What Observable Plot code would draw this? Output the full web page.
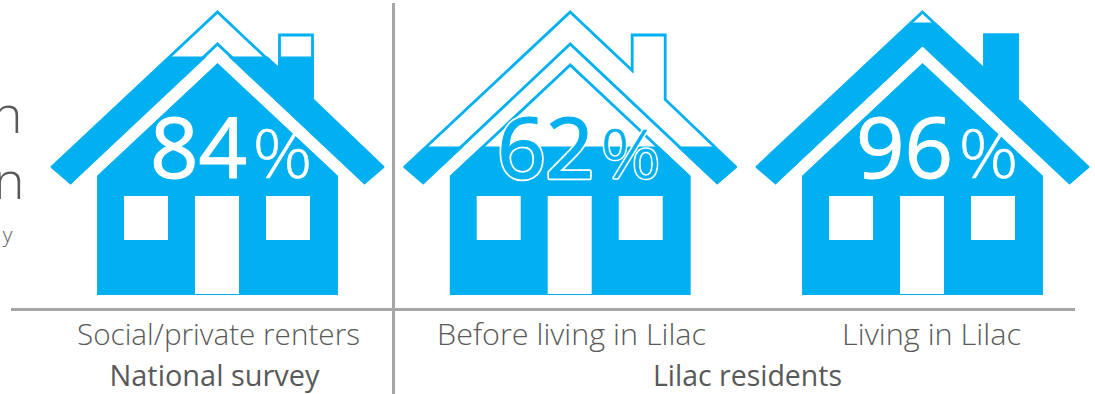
<!DOCTYPE html>
<html>
<head>
<meta charset="utf-8">
<script src="https://cdn.jsdelivr.net/npm/d3@7"></script>
<script src="https://cdn.jsdelivr.net/npm/@observablehq/plot@0.6"></script>
<style>
  html, body { margin: 0; padding: 0; background: #fff; }
  svg { display: block; }
</style>
</head>
<body>
<div id="chart"></div>
<script>
// Survey results
const groups = ["Social/private renters", "Before living in Lilac", "Living in Lilac"];
const percents = [84, 62, 96];
const sources = ["National survey", "Lilac residents"];
const headingEnds = ["h", "n", "y"];

// Page layout
const houseCentres = [217, 569.7, 922];
const digitCentres = [198, 545, 904];
const percentStarts = [252, 600, 958];
const groupCentres = [218, 571, 931];
const sourceCentres = [214, 747];
const textWidths = new Map([
  ["Social/private renters", 283], ["Before living in Lilac", 269], ["Living in Lilac", 179],
  ["National survey", 210], ["Lilac residents", 189], ["%", 60]
]);

// House pictogram, relative to the ridge line of each house
const roofShape = [[0, 11.5], [62, 70], [62, 34.5], [95, 34.5], [95, 99], [165, 166], [147, 182], [0, 43.5], [-147, 182], [-165, 166]];
const bodyShape = [[0, 64.5], [-119, 176], [-119, 293], [119, 293], [119, 176]];
const solidShape = [[0, 63], [-120, 175], [-120, 294], [120, 294], [120, 175]];
const solidRoof = [[0, 10], [61, 66], [61, 33], [96, 33], [96, 99], [167, 167], [147, 184], [0, 46], [-147, 184], [-167, 167]];
const openings = [[-93, -49, 196, 240], [-22, 22, 196, 294], [49, 93, 196, 240]];

// The gauge is not linear: the fill level of each house follows these stops
const levelScale = Plot.scale({y: {type: "linear", domain: [0, 62, 84, 96, 100], range: [294, 146, 56, 22, 10]}});

// Keep the part of a polygon lying below a horizontal level
function clipBelow(points, level) {
  const out = [];
  points.forEach((a, i) => {
    const b = points[(i + 1) % points.length];
    if (a[1] >= level) out.push(a);
    if ((a[1] >= level) !== (b[1] >= level)) {
      const t = (level - a[1]) / (b[1] - a[1]);
      out.push([a[0] + t * (b[0] - a[0]), level]);
    }
  });
  return out;
}

const placed = (shape, house, part) => shape.map(([x, y]) => ({x: x + houseCentres[house], y, part: `${house}-${part}`}));

const outlines = percents.flatMap((_, h) => [...placed(roofShape, h, "roof"), ...placed(bodyShape, h, "body")]);
const fills = percents.flatMap((p, h) => {
  const level = levelScale.apply(p);
  return [...placed(clipBelow(solidRoof, level), h, "roof"), ...placed(clipBelow(solidShape, level), h, "body")];
});
const gaps = percents.flatMap((_, h) => openings.map(([a, b, top, bottom]) => ({
  x1: houseCentres[h] + a, x2: houseCentres[h] + b, y1: top, y2: bottom
})));

const blue = "#00B0F0", rule = "#A6A6A6", ink = "#595959";
const face = "'Open Sans', sans-serif";
const figures = percents.map((p, i) => ({p, i}));
const figureColor = d => (d.i === 1 ? blue : "white");

// Digits and percent sign of one house set; the middle house sits on a white halo
const digitText = {
  x: d => digitCentres[d.i], y: 177, text: d => String(d.p), textAnchor: "middle", lineAnchor: "bottom",
  fontFamily: face, fontWeight: 400, fontSize: 85
};
const signText = {
  x: d => percentStarts[d.i], y: 177, text: () => "%", textAnchor: "start", lineAnchor: "bottom",
  fontFamily: face, fontWeight: 300, fontSize: 66, className: "fit"
};

const plot = Plot.plot({
  width: 1095, height: 394,
  margin: 0,
  x: {domain: [0, 1095], range: [0, 1095], axis: null},
  y: {domain: [0, 394], range: [0, 394], axis: null},
  style: {background: "white"},
  marks: [
    Plot.line(fills, {x: "x", y: "y", z: "part", curve: "linear-closed", fill: blue, stroke: "none"}),
    Plot.line(outlines, {x: "x", y: "y", z: "part", curve: "linear-closed", fill: "none", stroke: blue, strokeWidth: 2.8, strokeLinejoin: "miter", strokeMiterlimit: 8}),
    Plot.rect(gaps, {x1: "x1", x2: "x2", y1: "y1", y2: "y2", fill: "white"}),
    Plot.text(figures.filter(d => d.i === 1), {...digitText, fill: "white", stroke: "white", strokeWidth: 4.6}),
    Plot.text(figures.filter(d => d.i === 1), {...signText, fill: "white", stroke: "white", strokeWidth: 3.4}),
    Plot.text(figures, {...digitText, fill: figureColor, stroke: figureColor, strokeWidth: 1.1}),
    Plot.text(figures, {...signText, fill: figureColor, stroke: figureColor, strokeWidth: 0.5}),
    Plot.ruleY([309], {x1: 11, x2: 1075, stroke: rule, strokeWidth: 3}),
    Plot.ruleX([393], {y1: 3, y2: 394, stroke: rule, strokeWidth: 3}),
    Plot.text(groups, {
      x: (_, i) => groupCentres[i], y: 344, text: d => d, textAnchor: "middle", lineAnchor: "bottom",
      fontFamily: face, fontWeight: 300, fontSize: 30, fill: ink, className: "fit"
    }),
    Plot.text(sources, {
      x: (_, i) => sourceCentres[i], y: 385, text: d => d, textAnchor: "middle", lineAnchor: "bottom",
      fontFamily: face, fontWeight: 400, fontSize: 30, fill: ink, className: "fit"
    }),
    Plot.text(headingEnds.slice(0, 2), {
      x: (_, i) => [22, 24][i], y: (_, i) => [132, 198][i], text: d => d, textAnchor: "end", lineAnchor: "bottom",
      fontFamily: face, fontWeight: 300, fontSize: 52, fill: ink
    }),
    Plot.text(headingEnds.slice(2), {
      x: 12, y: 241, text: d => d, textAnchor: "end", lineAnchor: "bottom",
      fontFamily: face, fontWeight: 300, fontSize: 21, fill: ink
    })
  ]
});
document.getElementById("chart").append(plot);

// Bring the caption lines and percent signs to their set widths
plot.querySelectorAll(".fit text").forEach(t => {
  const w = textWidths.get(t.textContent);
  if (w) { t.setAttribute("textLength", w); t.setAttribute("lengthAdjust", "spacingAndGlyphs"); }
});
</script>
</body>
</html>
